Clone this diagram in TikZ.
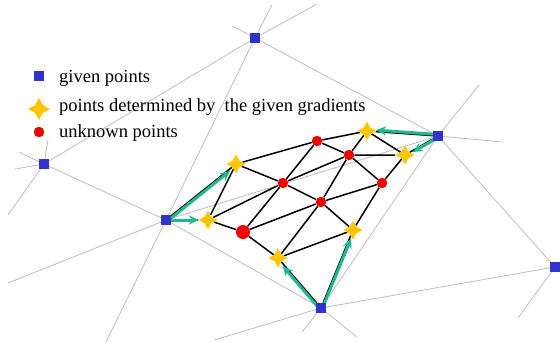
\documentclass[tikz,border=0pt]{standalone}
\usepackage{fontspec}
\setmainfont{Liberation Serif}
\usetikzlibrary{shapes.geometric, arrows.meta, backgrounds}

\definecolor{givenblue}{RGB}{50,50,205}
\definecolor{gradyellow}{RGB}{255,198,0}
\definecolor{unkred}{RGB}{240,0,0}
\definecolor{gradgreen}{RGB}{30,185,145}
\definecolor{linegray}{RGB}{190,190,190}

\begin{document}
\begin{tikzpicture}[x=1bp, y=-1bp,
        given/.style={rectangle, fill=givenblue, inner sep=0, minimum size=10bp},
        grad/.style={star, star points=4, star point ratio=2.0, fill=gradyellow, inner sep=0, minimum size=19bp},
        unknown/.style={circle, fill=unkred, inner sep=0, minimum size=10.5bp},
        legendtext/.style={anchor=base west, inner sep=0, font=\fontsize{18.5bp}{22bp}\selectfont},
        thinline/.style={linegray, line width=0.8bp},
        meshline/.style={black, line width=1.5bp},
        gradarrow/.style={gradgreen, line width=3bp, -{Stealth[length=10bp, width=9bp]}, shorten >=9bp, shorten <=4bp}]

        \useasboundingbox (0, 0) rectangle (560, 342);

        \node (g-1) at (255, 38) [given] {};
        \node (g-2) at (44, 164) [given] {};
        \node (g-3) at (166, 220) [given] {};
        \node (g-4) at (438, 136) [given] {};
        \node (g-5) at (321, 308) [given] {};
        \node (g-6) at (555, 267) [given] {};

        \node (s-1) at (236, 164) [grad] {};
        \node (s-2) at (208, 220) [grad] {};
        \node (s-3) at (278, 258) [grad] {};
        \node (s-4) at (353, 230) [grad] {};
        \node (s-5) at (405, 155) [grad] {};
        \node (s-6) at (367, 131) [grad] {};

        \node (u-1) at (317, 141) [unknown] {};
        \node (u-2) at (349, 155) [unknown] {};
        \node (u-3) at (283, 183) [unknown] {};
        \node (u-4) at (382, 183) [unknown] {};
        \node (u-5) at (321, 202) [unknown] {};
        \node (u-6) at (243, 232) [unknown, minimum size=14bp] {};

        \node (k-1) at (39, 76) [given] {};
        \node (k-2) at (39, 109) [grad, minimum size=22bp] {};
        \node (k-3) at (39, 132) [unknown] {};
        \node (t-1) at (59, 82) [legendtext] {given points};
        \node (t-2) at (59, 111.5) [legendtext] {points determined by\ \ the given gradients};
        \node (t-3) at (59, 137.5) [legendtext] {unknown points};

        \coordinate (e-1) at (106, 342);
        \coordinate (e-2) at (272, 5);
        \coordinate (e-3) at (317, 4);
        \coordinate (e-4) at (232, 26);
        \coordinate (e-5) at (19, 152);
        \coordinate (e-6) at (48, 140);
        \coordinate (e-7) at (15, 169);
        \coordinate (e-8) at (8, 215);
        \coordinate (e-9) at (8, 283);
        \coordinate (e-10) at (479, 85);
        \coordinate (e-11) at (503, 142);
        \coordinate (e-12) at (214, 340);
        \coordinate (e-13) at (302, 332);
        \coordinate (e-14) at (357, 337);
        \coordinate (e-15) at (518, 318);

        \begin{pgfonlayer}{background}
        \fill[white] (0, 0) rectangle (560, 342);

        \draw[thinline] (e-1) -- (g-3.center) -- (g-1.center) -- (e-2);
        \draw[thinline] (g-2.center) -- (g-1.center) -- (e-3);
        \draw[thinline] (e-4) -- (g-1.center) -- (g-4.center);
        \draw[thinline] (e-5) -- (g-2.center) -- (g-3.center) -- (g-5.center);
        \draw[thinline] (g-2.center) -- (e-6);
        \draw[thinline] (g-2.center) -- (e-7);
        \draw[thinline] (g-2.center) -- (e-8);
        \draw[thinline] (g-3.center) -- (e-9);
        \draw[thinline] (g-3.center) -- (g-4.center);
        \draw[thinline] (e-10) -- (g-4.center) -- (g-5.center) -- (e-13);
        \draw[thinline] (g-4.center) -- (e-11);
        \draw[thinline] (g-4.center) -- (g-6.center) -- (g-5.center) -- (e-12);
        \draw[thinline] (g-5.center) -- (e-14);
        \draw[thinline] (g-6.center) -- (e-15);

        \draw[meshline] (s-1) -- (u-1) -- (s-6) -- (s-5) -- (u-4) -- (s-4) -- (s-3) -- (u-6) -- (s-2) -- (s-1);
        \draw[meshline] (s-2) -- (u-3) -- (u-2) -- (s-5);
        \draw[meshline] (u-6) -- (u-5) -- (u-4);
        \draw[meshline] (s-1) -- (u-3) -- (u-5) -- (s-4);
        \draw[meshline] (u-1) -- (u-2) -- (u-4);
        \draw[meshline] (u-1) -- (u-3) -- (u-6);
        \draw[meshline] (s-6) -- (u-2) -- (u-5) -- (s-3);

        \draw[meshline] (g-3) -- (s-1);
        \draw[meshline] (g-3) -- (s-2);
        \draw[meshline] (g-5) -- (s-3);
        \draw[meshline] (g-5) -- (s-4);
        \draw[meshline] (g-4) -- (s-6);
        \draw[meshline] (g-4) -- (s-5);

        \draw[gradarrow, transform canvas={shift={(1.2bp,-1.2bp)}}] (g-3.center) -- (s-1.center);
        \draw[gradarrow] (g-3.center) -- (s-2.center);
        \draw[gradarrow, transform canvas={shift={(-1.2bp,-1.2bp)}}] (g-5.center) -- (s-3.center);
        \draw[gradarrow, transform canvas={shift={(1.5bp,0bp)}}] (g-5.center) -- (s-4.center);
        \draw[gradarrow, transform canvas={shift={(0bp,1.5bp)}}] (g-4.center) -- (s-6.center);
        \draw[gradarrow, transform canvas={shift={(0bp,-1.5bp)}}] (g-4.center) -- (s-5.center);
        \end{pgfonlayer}

\end{tikzpicture}
\end{document}
